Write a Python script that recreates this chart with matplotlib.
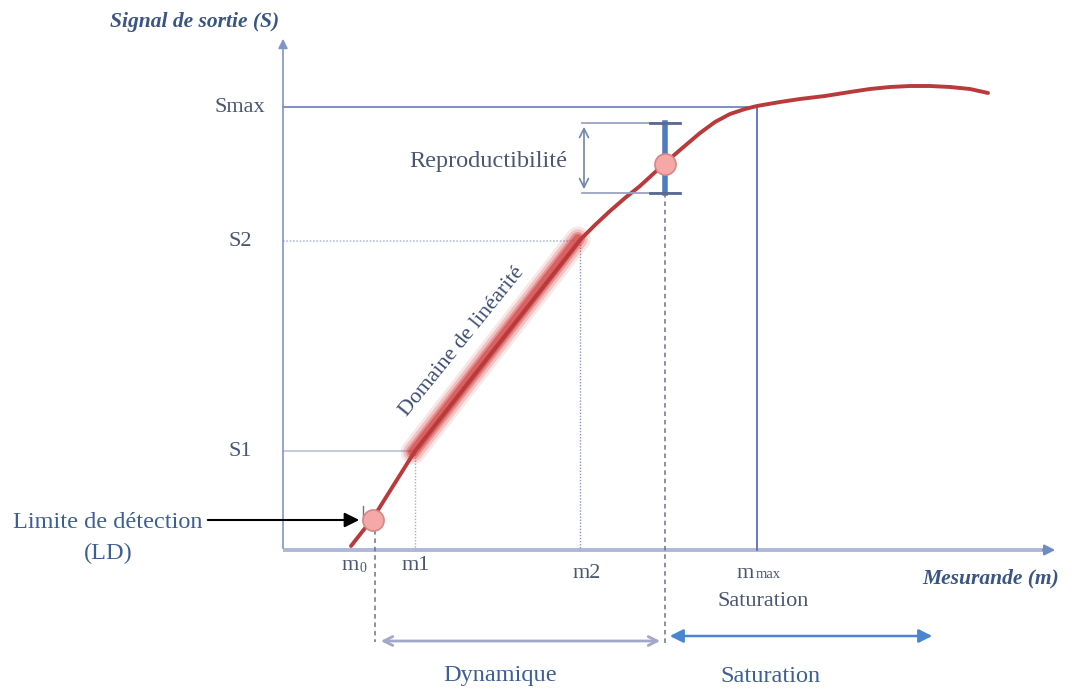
import numpy as np
import matplotlib.pyplot as plt

plt.rcParams['font.family'] = ['Liberation Serif', 'DejaVu Serif']

# response curve of the sensor, in drawing units (x to the right, y downward)
curve_m = [351, 373, 415, 500, 580, 595, 610, 625, 640, 652, 665, 680, 700, 715, 730,
           745, 757, 780, 800, 825, 850, 870, 890, 910, 930, 950, 970, 988]
curve_s = [546, 518, 451, 342, 240, 225, 211, 198, 186, 175, 163, 150, 133, 122, 114,
           109, 106, 102, 99, 96, 92, 89, 87, 86, 86, 87, 89, 93]

# linear range (m1 -> m2)
lin_m = [413, 578]
lin_s = [452, 239]

# reference levels
s_names = ['Smax', 'S2', 'S1']
s_levels = [107, 241, 451]
m_names = ['m1', 'm2']
m_levels = [415, 580]
m0, mmax, m_rep = 375, 757, 665
rep_top, rep_bot = 123, 193

ox, oy = 283, 550
txt_blue = '#3d5f94'
axis_col = '#b0b8d8'
red = '#b83a3a'
lab_col = '#4b5670'

fig = plt.figure(figsize=(10.72, 6.89), dpi=100)
ax = fig.add_axes([0, 0, 1, 1])
ax.set_xlim(0, 1072)
ax.set_ylim(689, 0)
ax.axis('off')

# axes with arrow heads
ax.annotate('', xy=(ox, 36), xytext=(ox, oy + 1),
            arrowprops=dict(arrowstyle='-|>', color='#7f95c8', lw=1.2, mutation_scale=14))
ax.plot([ox, 1045], [oy, oy], color=axis_col, lw=2.8, solid_capstyle='butt')
ax.annotate('', xy=(1058, oy), xytext=(1040, oy),
            arrowprops=dict(arrowstyle='-|>', color='#6f8cc0', lw=1.5, mutation_scale=16))

ax.text(195, 22, 'Signal de sortie (S)', color='#3a5585', fontsize=15.5,
        fontweight='bold', fontstyle='italic', ha='center', va='center')
ax.text(991, 578, 'Mesurande (m)', color='#3a5585', fontsize=15.5,
        fontweight='bold', fontstyle='italic', ha='center', va='center')

# level guides
ax.plot([ox, mmax], [s_levels[0]] * 2, color='#7d8fc0', lw=1.4)
ax.plot([mmax, mmax], [s_levels[0], oy], color='#6677bb', lw=1.4)
ax.plot([ox, m_levels[1]], [s_levels[1]] * 2, color='#b4c0dc', lw=1.2, ls=(0, (1, 1)))
ax.plot([m_levels[1]] * 2, [s_levels[1], oy], color='#8a96b8', lw=1.0, ls=(0, (1, 1.2)))
ax.plot([ox, m_levels[0]], [s_levels[2]] * 2, color='#b8c2dc', lw=1.2)
ax.plot([m_levels[0]] * 2, [s_levels[2], oy], color='#a6b0cc', lw=1.0, ls=(0, (1, 1.2)))

for name, lv in zip(s_names, s_levels):
    ax.text(240, lv, name, color=lab_col, fontsize=16, ha='center', va='center')

ax.text(350, 566, 'm', color=lab_col, fontsize=16, ha='center', va='center')
ax.text(363, 568, '0', color=lab_col, fontsize=10, ha='center', va='center')
for name, lv, yy in zip(m_names, m_levels, [566, 573]):
    ax.text(lv + 1 if name == 'm1' else lv + 7, yy, name, color=lab_col,
            fontsize=16, ha='center', va='center')
ax.text(745, 573, 'm', color=lab_col, fontsize=16, ha='center', va='center')
ax.text(768, 574, 'max', color=lab_col, fontsize=10.5, ha='center', va='center')
ax.text(763, 601, 'Saturation', color=lab_col, fontsize=16, ha='center', va='center')

# dashed boundaries of the dynamic range
ax.plot([m0, m0], [530, 642], color='#6a7488', lw=1.1, ls=(0, (3, 2.5)))
ax.plot([m_rep, m_rep], [rep_bot, 645], color='#6a7488', lw=1.1, ls=(0, (3, 2.5)))

# glow along the linear range
for w, a in [(18, 0.12), (14, 0.22), (10, 0.35), (7, 0.55)]:
    ax.plot(lin_m, lin_s, color='#d03a3a', lw=w, alpha=a, solid_capstyle='round')

ax.plot(curve_m, curve_s, color=red, lw=2.8, solid_capstyle='round',
        solid_joinstyle='round')

ax.text(462, 342, 'Domaine de linéarité', color='#3d4d75', fontsize=16,
        rotation=51, ha='center', va='center', rotation_mode='anchor')

# repeatability
ax.plot([582, 680], [rep_top] * 2, color='#98a4c0', lw=1.3)
ax.plot([582, 680], [rep_bot] * 2, color='#98a4c0', lw=1.3)
ax.annotate('', xy=(584, rep_top + 1), xytext=(584, rep_bot - 1),
            arrowprops=dict(arrowstyle='<->', color='#7085a8', lw=1.2, mutation_scale=16))
ax.plot([m_rep, m_rep], [rep_top, rep_bot], color='#4f7cc0', lw=4)
ax.plot([650, 680], [rep_top] * 2, color='#5a6a90', lw=2)
ax.plot([650, 680], [rep_bot] * 2, color='#5a6a90', lw=2)
ax.text(488, 162, 'Reproductibilité', color=lab_col, fontsize=17.5, ha='center', va='center')

# detection limit and repeatability points
ax.scatter([373, 665], [520, 164], s=230, color='#f4a8a8', edgecolor='#d88585',
           lw=1.2, zorder=5)
ax.plot([363, 363], [506, 518], color='#6a7488', lw=1)

ax.annotate('', xy=(362, 520), xytext=(205, 520),
            arrowprops=dict(arrowstyle='-|>', color='black', lw=1.5, mutation_scale=22))
ax.text(108, 522, 'Limite de détection', color=txt_blue, fontsize=17.5, ha='center', va='center')
ax.text(108, 553, '(LD)', color=txt_blue, fontsize=17.5, ha='center', va='center')

# ranges below the axis
ax.annotate('', xy=(378, 641), xytext=(663, 641),
            arrowprops=dict(arrowstyle='<->', color='#a4a8c8', lw=2, mutation_scale=16))
ax.annotate('', xy=(667, 636), xytext=(935, 636),
            arrowprops=dict(arrowstyle='<|-|>', color='#4a86d0', lw=1.8, mutation_scale=20))
ax.text(500, 676, 'Dynamique', color=txt_blue, fontsize=17.5, ha='center', va='center')
ax.text(770, 676, 'Saturation', color=txt_blue, fontsize=17.5, ha='center', va='center')

fig.savefig('out.png', dpi=100, facecolor='white')
